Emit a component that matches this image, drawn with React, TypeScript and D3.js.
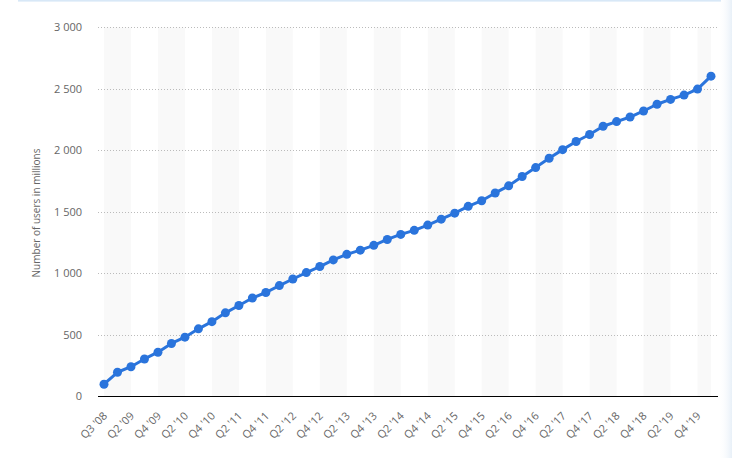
import React from "react";
import * as d3 from "d3";

const quarters: string[] = [
  "Q3 '08", "Q1 '09", "Q2 '09", "Q3 '09", "Q4 '09",
  "Q1 '10", "Q2 '10", "Q3 '10", "Q4 '10",
  "Q1 '11", "Q2 '11", "Q3 '11", "Q4 '11",
  "Q1 '12", "Q2 '12", "Q3 '12", "Q4 '12",
  "Q1 '13", "Q2 '13", "Q3 '13", "Q4 '13",
  "Q1 '14", "Q2 '14", "Q3 '14", "Q4 '14",
  "Q1 '15", "Q2 '15", "Q3 '15", "Q4 '15",
  "Q1 '16", "Q2 '16", "Q3 '16", "Q4 '16",
  "Q1 '17", "Q2 '17", "Q3 '17", "Q4 '17",
  "Q1 '18", "Q2 '18", "Q3 '18", "Q4 '18",
  "Q1 '19", "Q2 '19", "Q3 '19", "Q4 '19",
  "Q1 '20",
];

const users: number[] = [
  100, 197, 242, 305, 360,
  431, 482, 550, 608,
  680, 739, 800, 845,
  901, 955, 1007, 1056,
  1110, 1155, 1189, 1228,
  1276, 1317, 1350, 1393,
  1441, 1490, 1545, 1591,
  1654, 1712, 1788, 1860,
  1936, 2006, 2072, 2129,
  2196, 2234, 2271, 2320,
  2375, 2414, 2449, 2498,
  2603,
];

const yTicks: number[] = [0, 500, 1000, 1500, 2000, 2500, 3000];
const yTitle = "Number of users in millions";

const W = 732;
const H = 458;
const plotLeft = 98;
const plotRight = 718;
const plotTop = 27.3;
const plotBottom = 396.5;
const lineColor = "#2a74dc";
const textColor = "#666666";
const font = "'Open Sans', 'Noto Sans', sans-serif";

export default function App() {
  const x = d3
    .scalePoint<string>()
    .domain(quarters)
    .range([104, 711]);
  const y = d3.scaleLinear().domain([0, 3000]).range([plotBottom, plotTop]);

  const data = quarters.map((q, i) => ({ q, v: users[i] }));
  const line = d3
    .line<{ q: string; v: number }>()
    .x((d) => x(d.q) as number)
    .y((d) => y(d.v));

  const fmt = (v: number) => d3.format(",")(v).replace(/,/g, " ");

  // alternating bands: from point 4k to point 4k+2
  const bands: { x0: number; x1: number }[] = [];
  for (let i = 0; i < quarters.length; i += 4) {
    const j = Math.min(i + 2, quarters.length - 1);
    bands.push({ x0: x(quarters[i]) as number, x1: x(quarters[j]) as number });
  }

  return (
    <div style={{ position: "absolute", left: 0, top: 0 }}>
      <svg width={W} height={H} style={{ display: "block" }}>
        <defs>
          <linearGradient id="rightShade" x1="0" x2="1" y1="0" y2="0">
            <stop offset="0" stopColor="#ffffff" stopOpacity={0} />
            <stop offset="1" stopColor="#e8f0f8" stopOpacity={1} />
          </linearGradient>
        </defs>
        <rect x={0} y={0} width={W} height={H} fill="#ffffff" />
        <rect x={718} y={0} width={14} height={H} fill="url(#rightShade)" />
        <rect x={18} y={0} width={703} height={1.6} fill="#d8e8f7" />

        {bands.map((b, i) => (
          <rect
            key={i}
            x={b.x0}
            y={plotTop}
            width={b.x1 - b.x0}
            height={plotBottom - plotTop}
            fill="#f9f9f9"
          />
        ))}

        {yTicks.map((t) =>
          t === 0 ? null : (
            <line
              key={t}
              x1={plotLeft}
              x2={plotRight}
              y1={Math.round(y(t)) + 0.5}
              y2={Math.round(y(t)) + 0.5}
              stroke="#bbbbbb"
              strokeWidth={1}
              strokeDasharray="1,2"
            />
          )
        )}

        {yTicks.map((t) => (
          <text
            key={t}
            x={82}
            y={y(t)}
            dy="0.35em"
            textAnchor="end"
            fontFamily={font}
            fontSize={11}
            fill={textColor}
          >
            {fmt(t)}
          </text>
        ))}

        <text
          transform={`translate(40,213) rotate(-90)`}
          textAnchor="middle"
          fontFamily={font}
          fontSize={10}
          fill={textColor}
        >
          {yTitle}
        </text>

        <line
          x1={plotLeft}
          x2={plotRight}
          y1={plotBottom}
          y2={plotBottom}
          stroke="#000000"
          strokeWidth={1.2}
        />

        {quarters.map((q, i) =>
          i % 2 === 0 ? (
            <text
              key={q}
              transform={`translate(${(x(q) as number) + 4},${plotBottom + 20}) rotate(-45)`}
              textAnchor="end"
              fontFamily={font}
              fontSize={11}
              fill={textColor}
            >
              {q}
            </text>
          ) : null
        )}

        <path d={line(data) || ""} fill="none" stroke={lineColor} strokeWidth={3} strokeLinejoin="round" />
        {data.map((d) => (
          <circle key={d.q} cx={x(d.q) as number} cy={y(d.v)} r={4.5} fill={lineColor} />
        ))}
      </svg>
    </div>
  );
}
